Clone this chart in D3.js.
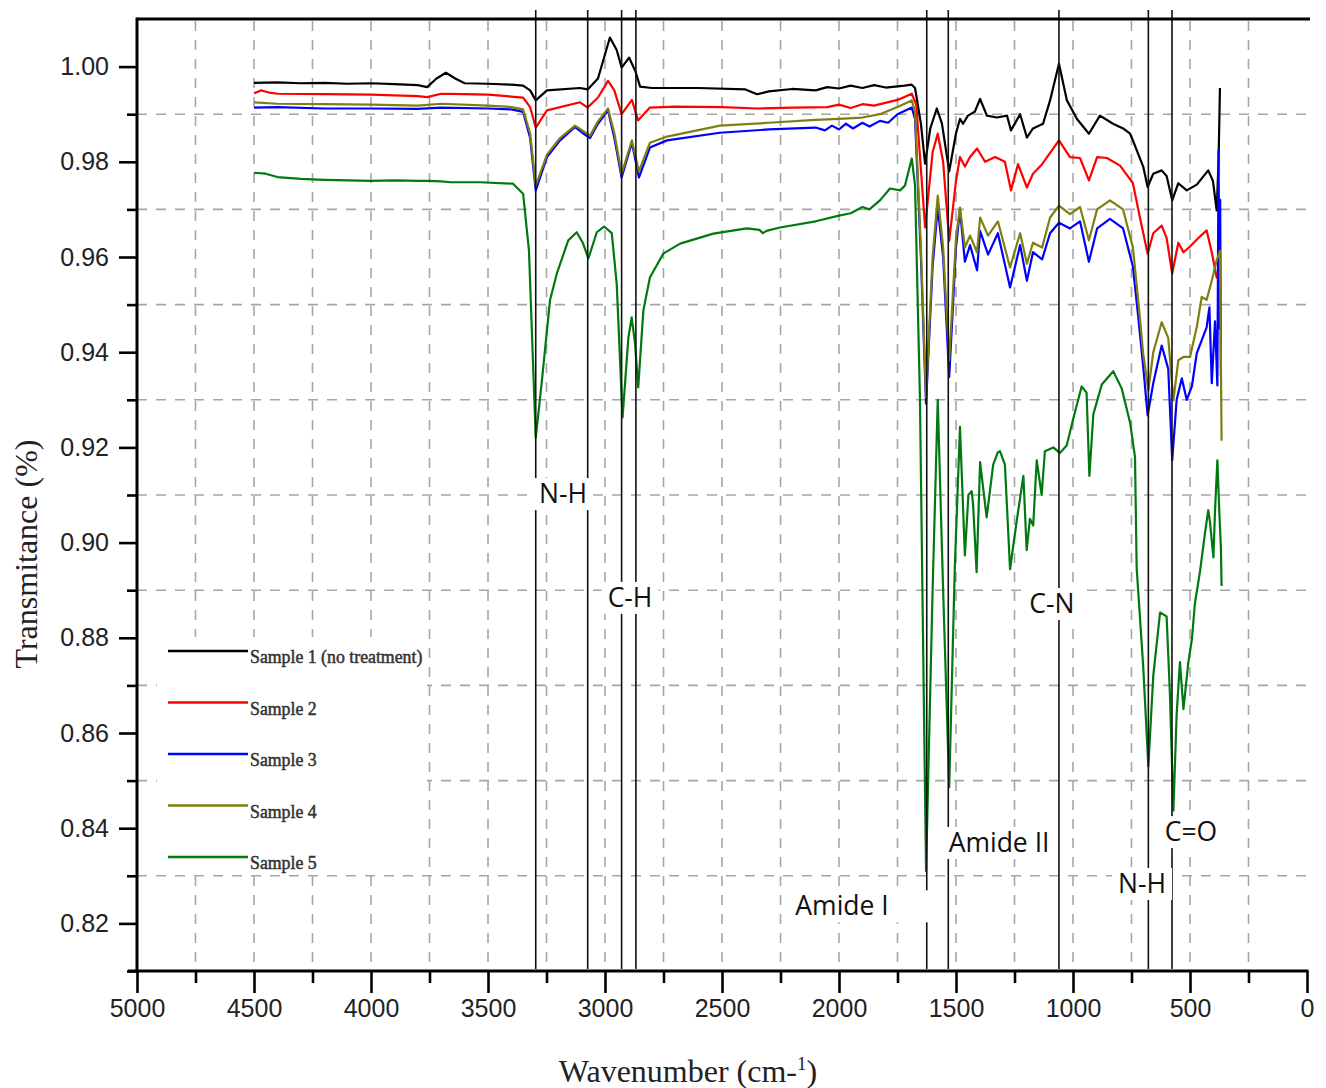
<!DOCTYPE html>
<html>
<head>
<meta charset="utf-8">
<script src="https://cdn.jsdelivr.net/npm/d3@7"></script>
<style>
  body { margin: 0; background: #fff; }
  svg { display: block; }
</style>
</head>
<body>
<svg id="chart" width="1326" height="1088"></svg>
<script>
// Espectros FTIR de 5 amostras: [numero de onda (cm-1), transmitancia]

const seriesNames = ['Sample 1 (no treatment)', 'Sample 2', 'Sample 3', 'Sample 4', 'Sample 5'];
const seriesColors = ['#000000', '#ff0000', '#0000ff', '#7f7f10', '#007a10'];

const sample1 = [
  [4500, 0.9966], [4400, 0.9967], [4300, 0.9965], [4200, 0.9966], [4100, 0.9964], [4000, 0.9965],
  [3900, 0.9963], [3800, 0.9961], [3760, 0.9957], [3720, 0.9975], [3680, 0.9987], [3640, 0.9975],
  [3600, 0.9965], [3500, 0.9964], [3400, 0.9962], [3350, 0.9960], [3320, 0.9950], [3296, 0.9929],
  [3248, 0.9950], [3107, 0.9955], [3074, 0.9952], [3030, 0.9975], [2979, 1.0061], [2950, 1.0035],
  [2929, 0.9998], [2897, 1.0019], [2870, 0.9990], [2850, 0.9958], [2800, 0.9955], [2600, 0.9955],
  [2400, 0.9952], [2350, 0.9942], [2300, 0.9948], [2200, 0.9953], [2100, 0.9950], [2050, 0.9957],
  [2000, 0.9954], [1950, 0.9960], [1900, 0.9955], [1850, 0.9961], [1800, 0.9956], [1720, 0.9960],
  [1689, 0.9962], [1675, 0.9955], [1650, 0.9880], [1632, 0.9796], [1610, 0.9870], [1582, 0.9912],
  [1560, 0.9880], [1529, 0.9780], [1500, 0.9860], [1483, 0.9890], [1470, 0.9880], [1449, 0.9897],
  [1420, 0.9905], [1397, 0.9932], [1368, 0.9897], [1325, 0.9893], [1282, 0.9897], [1265, 0.9866],
  [1226, 0.9900], [1197, 0.9851], [1171, 0.9870], [1128, 0.9880], [1098, 0.9929], [1060, 1.0006],
  [1026, 0.9929], [983, 0.9890], [932, 0.9859], [885, 0.9897], [829, 0.9880], [786, 0.9870],
  [756, 0.9859], [744, 0.9845], [722, 0.9817], [700, 0.9790], [681, 0.9747], [657, 0.9775],
  [621, 0.9782], [600, 0.9770], [576, 0.9719], [550, 0.9755], [514, 0.9740], [471, 0.9752],
  [422, 0.9782], [402, 0.9760], [386, 0.9698], [378, 0.9800], [372, 0.9955]
];

const sample2 = [
  [4500, 0.9944], [4470, 0.9950], [4440, 0.9946], [4400, 0.9943], [4200, 0.9942], [4000, 0.9941],
  [3800, 0.9938], [3760, 0.9936], [3700, 0.9943], [3600, 0.9942], [3500, 0.9941], [3350, 0.9935],
  [3320, 0.9915], [3296, 0.9872], [3248, 0.9908], [3107, 0.9925], [3074, 0.9914], [3030, 0.9935],
  [2987, 0.9970], [2960, 0.9950], [2929, 0.9900], [2885, 0.9930], [2859, 0.9887], [2808, 0.9914],
  [2700, 0.9916], [2500, 0.9915], [2350, 0.9912], [2200, 0.9914], [2050, 0.9915], [2000, 0.9920],
  [1950, 0.9913], [1900, 0.9921], [1850, 0.9918], [1750, 0.9930], [1689, 0.9943], [1670, 0.9920],
  [1632, 0.9662], [1600, 0.9820], [1578, 0.9859], [1555, 0.9800], [1529, 0.9634], [1500, 0.9760],
  [1483, 0.9810], [1462, 0.9790], [1440, 0.9810], [1410, 0.9828], [1376, 0.9800], [1333, 0.9810],
  [1291, 0.9800], [1265, 0.9740], [1235, 0.9795], [1197, 0.9746], [1171, 0.9775], [1132, 0.9795],
  [1060, 0.9845], [1013, 0.9810], [970, 0.9808], [932, 0.9761], [897, 0.9810], [855, 0.9808],
  [799, 0.9792], [744, 0.9755], [714, 0.9683], [681, 0.9607], [657, 0.9650], [621, 0.9666],
  [600, 0.9640], [576, 0.9565], [550, 0.9630], [528, 0.9610], [500, 0.9622], [464, 0.9640],
  [429, 0.9656], [407, 0.9610], [386, 0.9557], [378, 0.9555]
];

const sample3 = [
  [4500, 0.9914], [4400, 0.9915], [4200, 0.9912], [4000, 0.9912], [3800, 0.9911], [3700, 0.9914],
  [3500, 0.9912], [3400, 0.9910], [3350, 0.9905], [3320, 0.9850], [3296, 0.9740], [3248, 0.9810],
  [3192, 0.9845], [3128, 0.9873], [3094, 0.9860], [3064, 0.9850], [3030, 0.9880], [2987, 0.9908],
  [2960, 0.9850], [2929, 0.9767], [2885, 0.9840], [2855, 0.9767], [2808, 0.9830], [2735, 0.9845],
  [2509, 0.9861], [2300, 0.9868], [2100, 0.9872], [2060, 0.9866], [2030, 0.9876], [2000, 0.9868],
  [1970, 0.9880], [1940, 0.9870], [1900, 0.9882], [1870, 0.9874], [1825, 0.9886], [1790, 0.9882],
  [1750, 0.9900], [1689, 0.9914], [1675, 0.9890], [1650, 0.9600], [1628, 0.9292], [1600, 0.9580],
  [1578, 0.9705], [1555, 0.9600], [1529, 0.9348], [1500, 0.9620], [1483, 0.9700], [1462, 0.9590],
  [1440, 0.9625], [1410, 0.9572], [1397, 0.9655], [1363, 0.9605], [1321, 0.9650], [1269, 0.9536],
  [1226, 0.9625], [1197, 0.9550], [1171, 0.9610], [1132, 0.9595], [1098, 0.9650], [1060, 0.9672],
  [1013, 0.9660], [970, 0.9675], [932, 0.9590], [897, 0.9660], [842, 0.9680], [786, 0.9660],
  [744, 0.9580], [721, 0.9473], [700, 0.9370], [681, 0.9267], [657, 0.9335], [621, 0.9414],
  [593, 0.9365], [576, 0.9173], [557, 0.9300], [535, 0.9345], [514, 0.9300], [492, 0.9328],
  [471, 0.9398], [450, 0.9425], [429, 0.9452], [417, 0.9494], [407, 0.9335], [393, 0.9465],
  [383, 0.9330], [378, 0.9824], [374, 0.9450], [371, 0.9720], [368, 0.9350]
];

const sample4 = [
  [4500, 0.9925], [4400, 0.9922], [4200, 0.9921], [4000, 0.9920], [3800, 0.9918], [3700, 0.9922],
  [3500, 0.9918], [3400, 0.9915], [3350, 0.9910], [3320, 0.9860], [3296, 0.9750], [3248, 0.9815],
  [3192, 0.9850], [3128, 0.9876], [3094, 0.9865], [3064, 0.9855], [3030, 0.9885], [2987, 0.9912],
  [2960, 0.9860], [2929, 0.9775], [2885, 0.9845], [2855, 0.9780], [2808, 0.9840], [2735, 0.9853],
  [2509, 0.9876], [2300, 0.9882], [2100, 0.9888], [2000, 0.9890], [1900, 0.9893], [1825, 0.9900],
  [1750, 0.9915], [1689, 0.9929], [1675, 0.9905], [1650, 0.9620], [1628, 0.9305], [1600, 0.9600],
  [1578, 0.9729], [1555, 0.9620], [1529, 0.9383], [1500, 0.9640], [1483, 0.9704], [1462, 0.9620],
  [1440, 0.9645], [1410, 0.9610], [1397, 0.9683], [1363, 0.9645], [1321, 0.9675], [1269, 0.9578],
  [1226, 0.9650], [1197, 0.9586], [1171, 0.9630], [1132, 0.9620], [1098, 0.9683], [1060, 0.9708],
  [1013, 0.9690], [970, 0.9705], [932, 0.9635], [897, 0.9700], [842, 0.9719], [786, 0.9700],
  [744, 0.9620], [721, 0.9508], [700, 0.9397], [678, 0.9320], [657, 0.9400], [621, 0.9463],
  [593, 0.9430], [571, 0.9299], [550, 0.9383], [528, 0.9390], [500, 0.9390], [471, 0.9453],
  [450, 0.9516], [429, 0.9510], [407, 0.9550], [386, 0.9593], [372, 0.9613], [365, 0.9214]
];

const sample5 = [
  [4500, 0.9777], [4450, 0.9775], [4400, 0.9768], [4300, 0.9764], [4200, 0.9762], [4100, 0.9761],
  [4000, 0.9760], [3900, 0.9761], [3800, 0.9760], [3750, 0.9760], [3700, 0.9759], [3660, 0.9757],
  [3534, 0.9757], [3393, 0.9754], [3350, 0.9733], [3325, 0.9614], [3296, 0.9220], [3271, 0.9334],
  [3235, 0.9509], [3206, 0.9565], [3157, 0.9635], [3121, 0.9652], [3095, 0.9630], [3071, 0.9597],
  [3035, 0.9652], [3004, 0.9664], [2971, 0.9650], [2950, 0.9544], [2925, 0.9263], [2900, 0.9431],
  [2886, 0.9473], [2872, 0.9420], [2858, 0.9326], [2836, 0.9488], [2808, 0.9557], [2751, 0.9607],
  [2679, 0.9628], [2537, 0.9649], [2394, 0.9660], [2340, 0.9657], [2325, 0.9650], [2310, 0.9655],
  [2252, 0.9662], [2100, 0.9675], [2000, 0.9687], [1950, 0.9692], [1900, 0.9705], [1870, 0.9700],
  [1825, 0.9719], [1782, 0.9744], [1739, 0.9740], [1718, 0.9750], [1689, 0.9807], [1675, 0.9750],
  [1654, 0.9300], [1628, 0.8310], [1600, 0.8900], [1578, 0.9300], [1555, 0.8900], [1529, 0.8486],
  [1505, 0.8950], [1483, 0.9243], [1462, 0.8973], [1447, 0.9100], [1433, 0.9108], [1427, 0.9080],
  [1412, 0.8938], [1397, 0.9169], [1369, 0.9053], [1341, 0.9164], [1321, 0.9190], [1312, 0.9192],
  [1291, 0.9164], [1269, 0.8944], [1241, 0.9044], [1212, 0.9140], [1198, 0.8984], [1184, 0.9050],
  [1170, 0.9036], [1155, 0.9173], [1134, 0.9100], [1120, 0.9192], [1084, 0.9200], [1056, 0.9188],
  [1027, 0.9204], [999, 0.9260], [963, 0.9328], [942, 0.9315], [930, 0.9140], [913, 0.9270],
  [877, 0.9332], [828, 0.9360], [792, 0.9324], [756, 0.9252], [735, 0.9180], [728, 0.8948],
  [700, 0.8740], [678, 0.8530], [657, 0.8720], [628, 0.8853], [600, 0.8845], [586, 0.8685],
  [571, 0.8437], [557, 0.8640], [543, 0.8749], [528, 0.8650], [507, 0.8749], [492, 0.8797],
  [479, 0.8872], [457, 0.8940], [436, 0.9020], [422, 0.9068], [415, 0.9045], [400, 0.8969],
  [393, 0.9068], [383, 0.9173], [375, 0.9068], [368, 0.8990], [365, 0.8909]
];

const seriesData = [sample1, sample2, sample3, sample4, sample5];

const xTicks = [5000, 4500, 4000, 3500, 3000, 2500, 2000, 1500, 1000, 500, 0];
const xMinor = [4750, 4250, 3750, 3250, 2750, 2250, 1750, 1250, 750, 250];
const yTicks = [0.82, 0.84, 0.86, 0.88, 0.90, 0.92, 0.94, 0.96, 0.98, 1.00];
const yMinor = [0.81, 0.83, 0.85, 0.87, 0.89, 0.91, 0.93, 0.95, 0.97, 0.99];
const xGrid = [4750, 4500, 4250, 4000, 3750, 3500, 3250, 3000, 2750, 2500, 2250, 2000,
  1750, 1500, 1250, 1000, 750, 500, 250];
const yGrid = [0.83, 0.85, 0.87, 0.89, 0.91, 0.93, 0.95, 0.97, 0.99];

// linhas verticais das bandas (cm-1)
const bandLines = [3296, 3074, 2929, 2868, 1625, 1533, 1060, 678, 577];
// rotulos das bandas: texto e posicao em coordenadas do grafico
const bandLabels = [
  { text: 'N-H', wn: 3179, t: 0.9103 },
  { text: 'C-H', wn: 2893, t: 0.8885 },
  { text: 'C-N', wn: 1090, t: 0.8872 },
  { text: 'Amide II', wn: 1316, t: 0.8370 },
  { text: 'N-H', wn: 705, t: 0.8284 },
  { text: 'C=O', wn: 496, t: 0.8393 },
  { text: 'Amide I', wn: 1987, t: 0.8237, extraRight: 34 }
];

// ------------------------------------------------------------------ escalas
const x = d3.scaleLinear().domain([5000, 0]).range([137, 1307]);
const y = d3.scaleLinear().domain([0.81, 1.01]).range([971, 19]);

const svg = d3.select('#chart');
const plotL = x(5000), plotR = 1310, plotT = y(1.01), plotB = y(0.81);

// grade tracejada
const grid = svg.append('g').attr('stroke', '#a6a6a6').attr('stroke-width', 1.6)
  .attr('stroke-dasharray', '10,9');
grid.selectAll('.gx').data(xGrid).join('line')
  .attr('x1', (d) => x(d)).attr('x2', (d) => x(d)).attr('y1', plotT + 2).attr('y2', plotB);
grid.selectAll('.gy').data(yGrid).join('line')
  .attr('x1', plotL).attr('x2', plotR).attr('y1', (d) => y(d)).attr('y2', (d) => y(d));

// legenda cobre a grade (fundo branco)
const legendBox = { x0: 157, x1: 427, y0: 637, y1: 871 };
svg.append('rect')
  .attr('x', legendBox.x0).attr('y', legendBox.y0)
  .attr('width', legendBox.x1 - legendBox.x0).attr('height', legendBox.y1 - legendBox.y0)
  .attr('fill', '#fff');

// curvas
const line = d3.line().x((d) => x(d[0])).y((d) => y(d[1]));
svg.append('g').selectAll('path').data(seriesData).join('path')
  .attr('d', line)
  .attr('fill', 'none')
  .attr('stroke', (d, i) => seriesColors[i])
  .attr('stroke-width', 2.2)
  .attr('stroke-linejoin', 'round');

// linhas das bandas
svg.append('g').selectAll('line').data(bandLines).join('line')
  .attr('x1', (d) => x(d)).attr('x2', (d) => x(d))
  .attr('y1', 10).attr('y2', plotB - 2)
  .attr('stroke', '#111').attr('stroke-width', 1.6);

// rotulos com fundo branco
const lab = svg.append('g');
bandLabels.forEach((b) => {
  const g = lab.append('g');
  const bg = g.append('rect').attr('fill', '#fff');
  const t = g.append('text')
    .attr('x', x(b.wn)).attr('y', y(b.t))
    .attr('text-anchor', 'middle').attr('dy', '0.36em')
    .attr('font-family', '"Open Sans", sans-serif').attr('font-size', 26.5)
    .attr('fill', '#111')
    .text(b.text);
  const bb = t.node().getBBox();
  bg.attr('x', bb.x - 6).attr('y', bb.y + 3)
    .attr('width', bb.width + 12 + (b.extraRight || 0)).attr('height', bb.height - 4);
});

// legenda
const leg = svg.append('g');
seriesNames.forEach((name, i) => {
  const ly = 651 + i * 51.5;
  leg.append('line').attr('x1', 168).attr('x2', 248).attr('y1', ly).attr('y2', ly)
    .attr('stroke', seriesColors[i]).attr('stroke-width', 2.5);
  leg.append('text').attr('x', 250).attr('y', ly + 12)
    .attr('font-family', '"Liberation Serif", serif').attr('font-size', 17.8)
    .attr('fill', '#333').attr('stroke', '#333').attr('stroke-width', 0.5)
    .text(name);
});

// ------------------------------------------------------------------ eixos
const axisFont = (sel) => sel.selectAll('text')
  .attr('font-family', '"Liberation Sans", Arial, sans-serif').attr('font-size', 25)
  .attr('fill', '#222');

const xAxis = svg.append('g').attr('transform', `translate(0,${plotB})`)
  .call(d3.axisBottom(x).tickValues(xTicks).tickFormat(d3.format('d'))
    .tickSize(22).tickSizeOuter(0).tickPadding(6));
xAxis.call(axisFont);
svg.append('g').attr('transform', `translate(0,${plotB})`)
  .call(d3.axisBottom(x).tickValues(xMinor).tickFormat('').tickSize(12).tickSizeOuter(0));

const yAxis = svg.append('g').attr('transform', `translate(${plotL},0)`)
  .call(d3.axisLeft(y).tickValues(yTicks).tickFormat(d3.format('.2f'))
    .tickSize(18).tickSizeOuter(0).tickPadding(10));
yAxis.call(axisFont);
svg.append('g').attr('transform', `translate(${plotL},0)`)
  .call(d3.axisLeft(y).tickValues(yMinor).tickFormat('').tickSize(10).tickSizeOuter(0));

svg.selectAll('.domain').remove();
svg.selectAll('.tick line').attr('stroke', '#000').attr('stroke-width', 2.6);

// moldura: esquerda, base e topo
const frame = svg.append('g').attr('stroke', '#000').attr('stroke-width', 3);
frame.append('line').attr('x1', plotL).attr('x2', plotL).attr('y1', plotT - 1.5).attr('y2', plotB + 1.5);
frame.append('line').attr('x1', plotL - 9).attr('x2', x(0) + 1.5).attr('y1', plotB).attr('y2', plotB);
frame.append('line').attr('x1', plotL).attr('x2', plotR).attr('y1', plotT).attr('y2', plotT);

// titulos dos eixos
const xt = svg.append('text').attr('x', 688).attr('y', 1082).attr('text-anchor', 'middle')
  .attr('font-family', '"Liberation Serif", serif').attr('font-size', 32).attr('fill', '#222');
xt.append('tspan').text('Wavenumber (cm-');
xt.append('tspan').attr('font-size', 19).attr('dy', -12).text('1');
xt.append('tspan').attr('dy', 12).text(')');

svg.append('text').attr('transform', 'translate(37,554) rotate(-90)')
  .attr('text-anchor', 'middle')
  .attr('font-family', '"Liberation Serif", serif').attr('font-size', 32).attr('fill', '#222')
  .text('Transmitance (%)');
</script>
</body>
</html>
